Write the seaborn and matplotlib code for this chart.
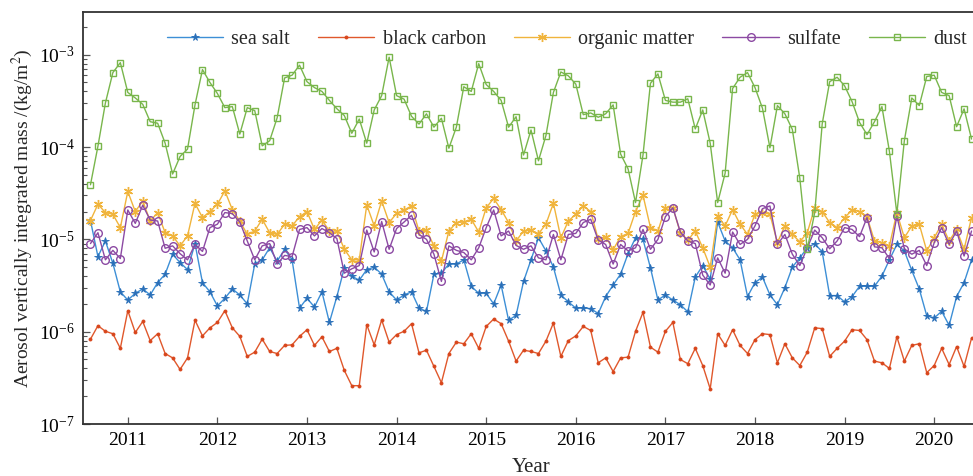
import numpy as np
import pandas as pd
import matplotlib
matplotlib.use("Agg")
import matplotlib.pyplot as plt
from matplotlib.ticker import LogLocator, LogFormatterSciNotation, NullFormatter, FixedLocator
import seaborn as sns

# Monthly column-integrated aerosol mass (kg/m^2), starting August 2010
start_year, start_month = 2010, 8

sea_salt = [
    1.6e-5, 6.5e-6, 9.6e-6, 5.5e-6, 2.7e-6, 2.2e-6, 2.6e-6, 2.9e-6, 2.5e-6, 3.4e-6,
    4.2e-6, 6.9e-6, 5.6e-6, 4.7e-6, 9.0e-6, 3.4e-6, 2.7e-6, 1.9e-6, 2.3e-6, 2.9e-6,
    2.5e-6, 2.0e-6, 5.4e-6, 6.0e-6, 8.1e-6, 5.8e-6, 7.8e-6, 6.0e-6, 1.8e-6, 2.3e-6,
    1.85e-6, 2.7e-6, 1.26e-6, 2.4e-6, 4.9e-6, 4.0e-6, 3.6e-6, 4.7e-6, 5.0e-6, 4.2e-6,
    2.7e-6, 2.2e-6, 2.5e-6, 2.7e-6, 1.8e-6, 1.66e-6, 4.2e-6, 4.3e-6, 5.4e-6, 5.4e-6,
    6.0e-6, 3.1e-6, 2.6e-6, 2.6e-6, 2.0e-6, 3.2e-6, 1.33e-6, 1.5e-6, 3.5e-6, 6.0e-6,
    1.04e-5, 7.5e-6, 5.0e-6, 2.5e-6, 2.1e-6, 1.8e-6, 1.8e-6, 1.78e-6, 1.57e-6, 2.4e-6,
    3.2e-6, 4.2e-6, 7.0e-6, 1.04e-5, 1.0e-5, 4.9e-6, 2.2e-6, 2.5e-6, 2.2e-6, 1.96e-6,
    1.64e-6, 3.9e-6, 5.2e-6, 3.7e-6, 1.54e-5, 9.6e-6, 8.1e-6, 6.0e-6, 2.4e-6, 3.4e-6,
    3.9e-6, 2.5e-6, 1.96e-6, 3.0e-6, 5.0e-6, 6.3e-6, 8.1e-6, 9.0e-6, 7.3e-6, 2.46e-6,
    2.46e-6, 2.1e-6, 2.4e-6, 3.1e-6, 3.1e-6, 3.1e-6, 4.0e-6, 6.0e-6, 8.8e-6, 7.5e-6,
    4.6e-6, 2.9e-6, 1.49e-6, 1.41e-6, 1.66e-6, 1.17e-6, 2.4e-6, 3.4e-6, 6.0e-6,
]

black_carbon = [
    8.3e-7, 1.16e-6, 1.01e-6, 9.5e-7, 6.6e-7, 1.69e-6, 9.8e-7, 1.29e-6, 8.0e-7, 9.5e-7,
    5.8e-7, 5.2e-7, 3.9e-7, 5.2e-7, 1.33e-6, 9.0e-7, 1.10e-6, 1.26e-6, 1.69e-6, 1.10e-6,
    8.9e-7, 5.4e-7, 6.0e-7, 8.3e-7, 6.1e-7, 5.8e-7, 7.1e-7, 7.2e-7, 8.9e-7, 1.05e-6,
    7.1e-7, 8.8e-7, 6.1e-7, 6.6e-7, 3.8e-7, 2.6e-7, 2.6e-7, 1.19e-6, 7.2e-7, 1.34e-6,
    7.7e-7, 9.3e-7, 1.01e-6, 1.22e-6, 5.9e-7, 6.3e-7, 4.2e-7, 2.8e-7, 5.8e-7, 7.7e-7,
    7.4e-7, 9.5e-7, 6.6e-7, 1.14e-6, 1.37e-6, 1.22e-6, 7.9e-7, 4.8e-7, 6.3e-7, 6.1e-7,
    5.8e-7, 7.9e-7, 1.24e-6, 5.4e-7, 8.0e-7, 9.0e-7, 1.14e-6, 1.03e-6, 4.6e-7, 5.2e-7,
    3.7e-7, 5.2e-7, 5.3e-7, 1.01e-6, 1.62e-6, 6.8e-7, 6.0e-7, 1.01e-6, 1.26e-6, 5.0e-7,
    4.5e-7, 6.6e-7, 4.3e-7, 2.4e-7, 9.5e-7, 7.1e-7, 1.05e-6, 7.1e-7, 5.8e-7, 8.2e-7,
    9.5e-7, 9.3e-7, 4.6e-7, 7.4e-7, 5.2e-7, 4.3e-7, 6.0e-7, 1.10e-6, 1.08e-6, 5.4e-7,
    6.6e-7, 7.9e-7, 1.05e-6, 1.03e-6, 8.2e-7, 4.8e-7, 4.6e-7, 4.0e-7, 8.8e-7, 4.8e-7,
    7.1e-7, 7.4e-7, 3.6e-7, 4.3e-7, 6.6e-7, 4.4e-7, 6.9e-7, 4.2e-7, 8.5e-7,
]

organic_matter = [
    1.6e-5, 2.4e-5, 1.95e-5, 1.87e-5, 1.34e-5, 3.3e-5, 2.0e-5, 2.6e-5, 1.58e-5, 1.95e-5,
    1.18e-5, 1.09e-5, 8.5e-6, 1.09e-5, 2.46e-5, 1.72e-5, 2.0e-5, 2.4e-5, 3.35e-5, 2.1e-5,
    1.58e-5, 1.13e-5, 1.23e-5, 1.65e-5, 1.18e-5, 1.13e-5, 1.46e-5, 1.40e-5, 1.76e-5, 2.0e-5,
    1.28e-5, 1.62e-5, 1.23e-5, 1.23e-5, 7.8e-6, 6.0e-6, 6.0e-6, 2.36e-5, 1.40e-5, 2.6e-5,
    1.52e-5, 1.91e-5, 2.08e-5, 2.3e-5, 1.23e-5, 1.26e-5, 8.5e-6, 5.8e-6, 1.23e-5, 1.52e-5,
    1.54e-5, 1.65e-5, 1.2e-5, 2.2e-5, 2.77e-5, 2.1e-5, 1.52e-5, 9.6e-6, 1.23e-5, 1.26e-5,
    1.15e-5, 1.46e-5, 2.46e-5, 1.04e-5, 1.58e-5, 1.87e-5, 2.3e-5, 2.0e-5, 1.0e-5, 1.07e-5,
    7.7e-6, 1.07e-5, 1.16e-5, 2.0e-5, 3.0e-5, 1.34e-5, 1.23e-5, 2.2e-5, 2.2e-5, 1.18e-5,
    9.8e-6, 1.23e-5, 8.1e-6, 5.0e-6, 1.79e-5, 1.40e-5, 2.1e-5, 1.46e-5, 1.13e-5, 1.87e-5,
    1.95e-5, 1.87e-5, 9.2e-6, 1.40e-5, 1.13e-5, 9.4e-6, 1.18e-5, 2.2e-5, 2.0e-5, 1.52e-5,
    1.34e-5, 1.72e-5, 2.08e-5, 2.0e-5, 1.76e-5, 9.6e-6, 9.2e-6, 8.5e-6, 1.95e-5, 1.04e-5,
    1.40e-5, 1.46e-5, 7.5e-6, 1.04e-5, 1.46e-5, 9.6e-6, 1.28e-5, 7.8e-6, 1.72e-5,
]

sulfate = [
    9.0e-6, 1.18e-5, 6.0e-6, 7.6e-6, 6.2e-6, 2.08e-5, 1.49e-5, 2.34e-5, 1.62e-5, 1.58e-5,
    8.0e-6, 8.5e-6, 7.0e-6, 6.0e-6, 8.8e-6, 7.4e-6, 1.34e-5, 1.46e-5, 1.95e-5, 1.90e-5,
    1.54e-5, 9.6e-6, 6.0e-6, 8.5e-6, 9.0e-6, 5.4e-6, 6.7e-6, 6.5e-6, 1.28e-5, 1.34e-5,
    1.09e-5, 1.31e-5, 1.18e-5, 1.02e-5, 4.3e-6, 4.8e-6, 5.2e-6, 1.26e-5, 7.3e-6, 1.56e-5,
    7.8e-6, 1.31e-5, 1.54e-5, 1.82e-5, 1.13e-5, 1.0e-5, 6.9e-6, 3.5e-6, 8.5e-6, 7.6e-6,
    7.2e-6, 6.0e-6, 8.1e-6, 1.34e-5, 2.08e-5, 1.09e-5, 1.23e-5, 8.6e-6, 7.8e-6, 8.5e-6,
    6.3e-6, 6.0e-6, 1.13e-5, 6.0e-6, 1.13e-5, 1.16e-5, 1.52e-5, 1.65e-5, 9.8e-6, 8.8e-6,
    5.4e-6, 8.8e-6, 7.5e-6, 8.1e-6, 1.28e-5, 7.8e-6, 1.0e-5, 1.76e-5, 2.2e-5, 1.2e-5,
    9.6e-6, 9.0e-6, 4.1e-6, 3.2e-6, 6.3e-6, 4.3e-6, 1.2e-5, 8.8e-6, 1.0e-5, 1.40e-5,
    2.15e-5, 2.3e-5, 8.8e-6, 1.13e-5, 6.9e-6, 5.2e-6, 8.1e-6, 1.26e-5, 1.04e-5, 7.9e-6,
    9.6e-6, 1.34e-5, 1.28e-5, 1.07e-5, 1.72e-5, 8.3e-6, 8.1e-6, 6.2e-6, 1.79e-5, 7.9e-6,
    6.9e-6, 7.6e-6, 5.2e-6, 9.2e-6, 1.34e-5, 8.8e-6, 1.23e-5, 6.6e-6, 1.23e-5,
]

dust = [
    3.9e-5, 1.02e-4, 3.0e-4, 6.4e-4, 8.2e-4, 3.9e-4, 3.4e-4, 2.9e-4, 1.88e-4, 1.81e-4,
    1.10e-4, 5.1e-5, 7.9e-5, 9.5e-5, 2.86e-4, 6.9e-4, 5.0e-4, 3.8e-4, 2.67e-4, 2.74e-4,
    1.38e-4, 2.67e-4, 2.48e-4, 1.03e-4, 1.17e-4, 2.07e-4, 5.6e-4, 6.0e-4, 7.7e-4, 5.1e-4,
    4.4e-4, 4.0e-4, 3.2e-4, 2.6e-4, 2.19e-4, 1.41e-4, 2.01e-4, 1.10e-4, 2.52e-4, 3.6e-4,
    9.4e-4, 3.6e-4, 3.3e-4, 2.15e-4, 1.77e-4, 2.29e-4, 1.64e-4, 2.05e-4, 9.7e-5, 1.64e-4,
    4.5e-4, 4.0e-4, 8.0e-4, 4.75e-4, 4.0e-4, 3.2e-4, 1.64e-4, 2.13e-4, 8.2e-5, 1.53e-4,
    7.1e-5, 1.33e-4, 3.9e-4, 6.5e-4, 5.9e-4, 4.8e-4, 2.24e-4, 2.34e-4, 2.10e-4, 2.29e-4,
    2.86e-4, 8.4e-5, 5.8e-5, 2.5e-5, 8.2e-5, 4.9e-4, 6.2e-4, 3.2e-4, 3.06e-4, 3.06e-4,
    3.33e-4, 1.57e-4, 2.52e-4, 1.10e-4, 2.5e-5, 5.2e-5, 4.3e-4, 5.7e-4, 6.4e-4, 4.4e-4,
    2.63e-4, 9.8e-5, 2.81e-4, 2.29e-4, 1.55e-4, 4.6e-5, 7.8e-6, 1.95e-5, 1.78e-4, 5.1e-4,
    5.7e-4, 4.6e-4, 3.1e-4, 1.85e-4, 1.36e-4, 1.88e-4, 2.74e-4, 9.0e-5, 1.9e-5, 1.17e-4,
    3.4e-4, 2.81e-4, 5.8e-4, 6.0e-4, 3.9e-4, 3.6e-4, 1.66e-4, 2.59e-4, 1.22e-4,
]

species = ["sea salt", "black carbon", "organic matter", "sulfate", "dust"]
year_ticks = [2011, 2012, 2013, 2014, 2015, 2016, 2017, 2018, 2019, 2020]

# Decimal-year time axis from the monthly index
n_months = len(dust)
months = pd.date_range(f"{start_year}-{start_month:02d}-01", periods=n_months, freq="MS")
decimal_year = months.year + (months.month - 1) / 12.0

df = pd.DataFrame({
    "year": decimal_year,
    "sea salt": sea_salt,
    "black carbon": black_carbon,
    "organic matter": organic_matter,
    "sulfate": sulfate,
    "dust": dust,
})

sns.set_theme(style="ticks")
plt.rcParams["font.family"] = ["Liberation Serif", "DejaVu Serif"]
plt.rcParams["mathtext.fontset"] = "stix"

styles = {
    "sea salt":       dict(color="#3d8fd6", marker="*", markersize=5.5, mfc="#2a6fb8", mec="#2a6fb8", mew=0.6),
    "black carbon":   dict(color="#e0582c", marker="o", markersize=2.2, mfc="#d8461c", mec="#d8461c", mew=0.6),
    "organic matter": dict(color="#f0b43c", marker=(6, 2, 0), markersize=6.5, mfc="none", mec="#f0b43c", mew=1.0),
    "sulfate":        dict(color="#8c4aa3", marker="o", markersize=5.5, mfc="none", mec="#8c4aa3", mew=1.0),
    "dust":           dict(color="#79b64c", marker="s", markersize=5.0, mfc="none", mec="#79b64c", mew=1.0),
}

fig = plt.figure(figsize=(9.73, 4.76), dpi=100)
ax = fig.add_axes([83 / 973, 1 - 424 / 476, 896 / 973, 412 / 476])

for name in species:
    st = styles[name]
    sns.lineplot(data=df, x="year", y=name, ax=ax, label=name,
                 color=st["color"], linewidth=1.0,
                 marker=st["marker"], markersize=st["markersize"],
                 markerfacecolor=st["mfc"], markeredgecolor=st["mec"],
                 markeredgewidth=st["mew"])

ax.set_yscale("log")
ax.set_ylim(1e-7, 2.9e-3)
ax.set_xlim(2010.5, 2020.5)

ax.yaxis.set_major_locator(LogLocator(base=10, numticks=10))
ax.yaxis.set_major_formatter(LogFormatterSciNotation())
ax.yaxis.set_minor_locator(LogLocator(base=10, subs=np.arange(2, 10), numticks=20))
ax.yaxis.set_minor_formatter(NullFormatter())
ax.xaxis.set_major_locator(FixedLocator(year_ticks))
ax.set_xticklabels([str(y) for y in year_ticks])

ax.tick_params(axis="both", which="major", direction="in", length=5, width=0.9,
               color="#555555", labelsize=14, labelcolor="black", pad=6)
ax.tick_params(axis="y", which="minor", direction="in", length=3, width=0.8, color="#555555")

for side in ["left", "bottom", "top", "right"]:
    ax.spines[side].set_color("#333333")
    ax.spines[side].set_linewidth(1.3)

ax.set_xlabel("Year", fontsize=15, labelpad=6)
ax.set_ylabel("Aerosol vertically integrated mass /(kg/m$^2$)", fontsize=14, labelpad=3)

ax.legend(loc="upper right", bbox_to_anchor=(1.0, 0.985), ncol=5, frameon=False,
          fontsize=14.5, handlelength=2.8, handletextpad=0.4, columnspacing=1.4,
          borderaxespad=0.2)

fig.savefig("out.png", dpi=100)
